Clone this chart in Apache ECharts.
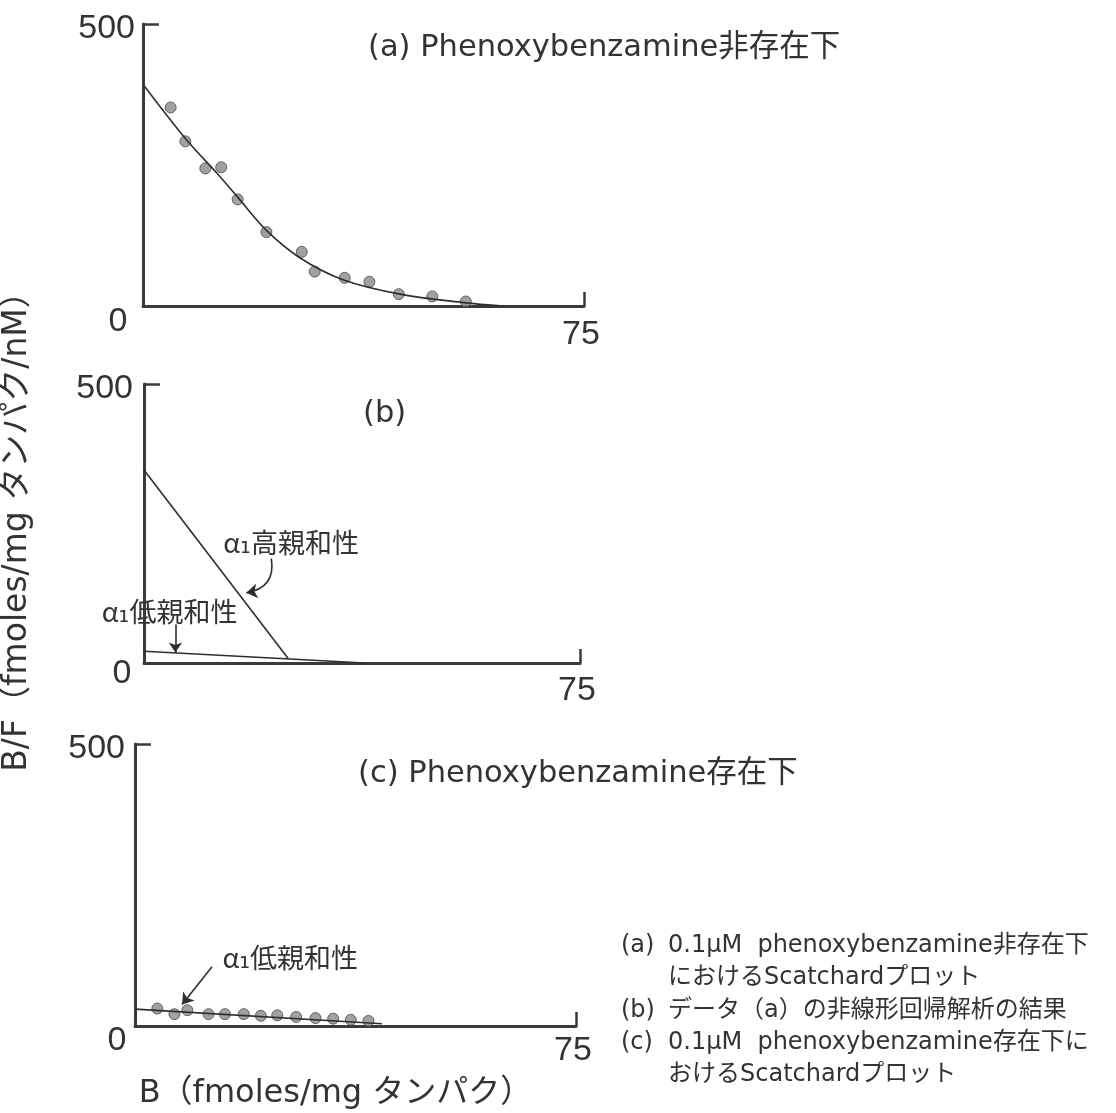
<!DOCTYPE html>
<html>
<head>
<meta charset="utf-8">
<script src="https://cdn.jsdelivr.net/npm/echarts@6/dist/echarts.min.js"></script>
<style>
  html, body { margin: 0; padding: 0; background: #ffffff; }
  #chart { width: 1116px; height: 1113px; }
</style>
</head>
<body>
<div id="chart"></div>
<script>
// (a) Scatchard data without phenoxybenzamine: B (fmoles/mg protein), B/F
const aBound = [4.7, 7.2, 10.6, 13.3, 16.1, 21.0, 27.0, 29.2, 34.3, 38.5, 43.5, 49.2, 54.9];
const aRatio = [352, 292, 244, 246, 189, 131, 96, 61, 50, 43, 21, 17, 8];
// (a) non-linear regression curve through the data
const aFitBound = [0, 7.2, 12.7, 16.1, 21.0, 26.6, 33.9, 43.7, 54.6, 61.3];
const aFitRatio = [393, 297, 234, 193, 134, 86, 47, 21, 6, 0];

// (b) the two binding components resolved from (a)
const bHighBound = [0, 24.8];
const bHighRatio = [346, 8];
const bLowBound = [0, 38];
const bLowRatio = [21, 0];

// (c) Scatchard data with phenoxybenzamine
const cBound = [3.8, 6.7, 8.9, 12.5, 15.3, 18.5, 21.4, 24.2, 27.4, 30.7, 33.7, 36.7, 39.7];
const cRatio = [31, 21, 28, 21, 21, 21, 18, 19, 16, 14, 13, 11, 9];
const cFitBound = [0, 42];
const cFitRatio = [30, 4];

// axis ranges / tick labels
const xTicks = [0, 75];
const yTicks = [0, 500];

const panelTitles = ['(a) Phenoxybenzamine非存在下', '(b)', '(c) Phenoxybenzamine存在下'];
const yAxisName = 'B/F（fmoles/mg タンパク/nM）';
const xAxisName = 'B（fmoles/mg タンパク）';
const highLabel = 'α₁高親和性';
const lowLabel = 'α₁低親和性';

const captionKeys = ['(a)', '(b)', '(c)'];
const captionLines = [
  '0.1μM  phenoxybenzamine非存在下',
  'におけるScatchardプロット',
  'データ（a）の非線形回帰解析の結果',
  '0.1μM  phenoxybenzamine存在下に',
  'おけるScatchardプロット'
];

const INK = '#333333';
const AXIS = '#3a3a3a';
const LATIN = "'DejaVu Sans', 'Noto Sans CJK JP', sans-serif";
const NUM = "'Liberation Sans Narrow', 'Liberation Sans', sans-serif";
const JP = "'Noto Sans CJK JP', 'DejaVu Sans', sans-serif";

const zip = (xs, ys) => xs.map((x, i) => [x, ys[i]]);

// panel boxes and per-panel offsets of the tick labels
const panels = [
  { left: 143, top: 24, width: 441, height: 282, zeroDx: 25, zeroDy: 15, endDy: 28, topGap: 8 },
  { left: 139, top: 384, width: 441, height: 279, zeroDx: 22, zeroDy: 10, endDy: 27, topGap: 11 },
  { left: 135, top: 744, width: 441, height: 282, zeroDx: 18, zeroDy: 14, endDy: 24, topGap: 10 }
];

const grids = panels.map(p => ({ left: p.left, top: p.top, width: p.width, height: p.height }));

const xAxes = panels.map((p, i) => ({
  gridIndex: i,
  type: 'value',
  min: xTicks[0], max: xTicks[1], interval: xTicks[1] - xTicks[0],
  axisLine: { show: true, onZero: false, lineStyle: { color: AXIS, width: 3 } },
  axisTick: { show: true, inside: true, length: 14, lineStyle: { color: AXIS, width: 2.5 } },
  splitLine: { show: false },
  axisLabel: {
    margin: p.zeroDy - 16,
    color: INK,
    fontFamily: NUM,
    fontSize: 34,
    formatter: v => v === xTicks[0] ? '{z|' + v + '}' : '{e|' + v + '}',
    rich: {
      z: { fontFamily: NUM, fontSize: 34, color: INK, padding: [0, p.zeroDx * 2, 0, 0] },
      e: { fontFamily: NUM, fontSize: 34, color: INK, padding: [p.endDy - p.zeroDy, 6, 0, 0] }
    }
  },
  name: i === 2 ? xAxisName : '',
  nameLocation: 'middle',
  nameGap: 52,
  nameTextStyle: { fontFamily: LATIN, fontSize: 32, color: INK, padding: [0, 40, 0, 0] }
}));

const yAxes = panels.map((p, i) => ({
  gridIndex: i,
  type: 'value',
  min: yTicks[0], max: yTicks[1], interval: yTicks[1] - yTicks[0],
  axisLine: { show: true, onZero: false, lineStyle: { color: AXIS, width: 3 } },
  axisTick: { show: true, inside: true, length: 16, lineStyle: { color: AXIS, width: 2.5 } },
  splitLine: { show: false },
  axisLabel: {
    margin: p.topGap,
    formatter: v => v === yTicks[1] ? '{t|' + v + '}' : '',
    rich: {
      t: { fontFamily: NUM, fontSize: 34, color: INK, padding: [10, 0, 0, 0] }
    }
  },
  name: i === 1 ? yAxisName : '',
  nameLocation: 'middle',
  nameRotate: 90,
  nameGap: 110,
  nameTextStyle: { fontFamily: LATIN, fontSize: 33, color: INK }
}));

const pointStyle = { color: '#8a8a8a', borderColor: '#474747', borderWidth: 1 };
const fitStyle = { color: '#2e2e2e', width: 1.6 };
const arrowStyle = { color: '#2e2e2e', width: 1.6 };

function annotation(coord, text) {
  return {
    coord: coord,
    symbol: 'circle',
    symbolSize: 1,
    itemStyle: { color: 'rgba(0,0,0,0)' },
    label: {
      show: true, position: 'inside', formatter: text,
      fontFamily: JP, fontSize: 27, color: INK
    }
  };
}

const series = [
  // (a)
  {
    type: 'line', xAxisIndex: 0, yAxisIndex: 0,
    data: zip(aFitBound, aFitRatio), smooth: 0.35, showSymbol: false,
    lineStyle: fitStyle, silent: true
  },
  {
    type: 'scatter', xAxisIndex: 0, yAxisIndex: 0,
    data: zip(aBound, aRatio), symbolSize: 11, itemStyle: pointStyle, silent: true
  },
  // (b) high-affinity component
  {
    type: 'line', xAxisIndex: 1, yAxisIndex: 1,
    data: zip(bHighBound, bHighRatio), showSymbol: false,
    lineStyle: fitStyle, silent: true,
    markPoint: { silent: true, data: [annotation([25.3, 216], highLabel)] }
  },
  // curved pointer from the high-affinity label to its line
  {
    type: 'lines', coordinateSystem: 'cartesian2d', xAxisIndex: 1, yAxisIndex: 1,
    symbol: ['none', 'arrow'], symbolSize: 11, silent: true,
    lineStyle: Object.assign({ curveness: 0.5, opacity: 1 }, arrowStyle),
    data: [{ coords: [[21.9, 187], [17.6, 126]] }]
  },
  // (b) low-affinity component
  {
    type: 'line', xAxisIndex: 1, yAxisIndex: 1,
    data: zip(bLowBound, bLowRatio), showSymbol: false,
    lineStyle: fitStyle, silent: true,
    markLine: {
      silent: true, symbol: ['none', 'arrow'], symbolSize: 10,
      label: { show: false },
      lineStyle: Object.assign({ type: 'solid' }, arrowStyle),
      data: [[{ coord: [5.4, 69] }, { coord: [5.4, 19] }]]
    },
    markPoint: { silent: true, data: [annotation([4.4, 92], lowLabel)] }
  },
  // (c)
  {
    type: 'line', xAxisIndex: 2, yAxisIndex: 2,
    data: zip(cFitBound, cFitRatio), showSymbol: false,
    lineStyle: fitStyle, silent: true,
    markLine: {
      silent: true, symbol: ['none', 'arrow'], symbolSize: 11,
      label: { show: false },
      lineStyle: Object.assign({ type: 'solid' }, arrowStyle),
      data: [[{ coord: [13.1, 105] }, { coord: [8.0, 38] }]]
    },
    markPoint: { silent: true, data: [annotation([26.4, 121], lowLabel)] }
  },
  {
    type: 'scatter', xAxisIndex: 2, yAxisIndex: 2,
    data: zip(cBound, cRatio), symbolSize: 11, itemStyle: pointStyle, silent: true
  }
];

const titleStyle = { fontFamily: LATIN, fontSize: 30.5, fontWeight: 'normal', color: INK };
const titles = [
  { text: panelTitles[0], left: 363, top: 28, textStyle: titleStyle },
  { text: panelTitles[1], left: 358, top: 394, textStyle: titleStyle },
  { text: panelTitles[2], left: 353, top: 754, textStyle: titleStyle }
];

// caption block, lower right
const capFont = { fontFamily: LATIN, fontSize: 24, fill: INK, verticalAlign: 'middle' };
const capRows = [946, 978, 1011, 1043, 1075];
const capKeyRows = [946, 1011, 1043];
const captionGraphics = [];
captionKeys.forEach((k, i) => {
  captionGraphics.push({
    type: 'text', x: 621, y: capKeyRows[i],
    style: Object.assign({}, capFont, { text: k, fontSize: 24 })
  });
});
captionLines.forEach((t, i) => {
  captionGraphics.push({
    type: 'text', x: 668, y: capRows[i],
    style: Object.assign({}, capFont, { text: t })
  });
});

const chart = echarts.init(document.getElementById('chart'), null, { renderer: 'canvas' });
chart.setOption({
  animation: false,
  backgroundColor: '#ffffff',
  title: titles,
  grid: grids,
  xAxis: xAxes,
  yAxis: yAxes,
  series: series,
  graphic: captionGraphics
});
</script>
</body>
</html>
